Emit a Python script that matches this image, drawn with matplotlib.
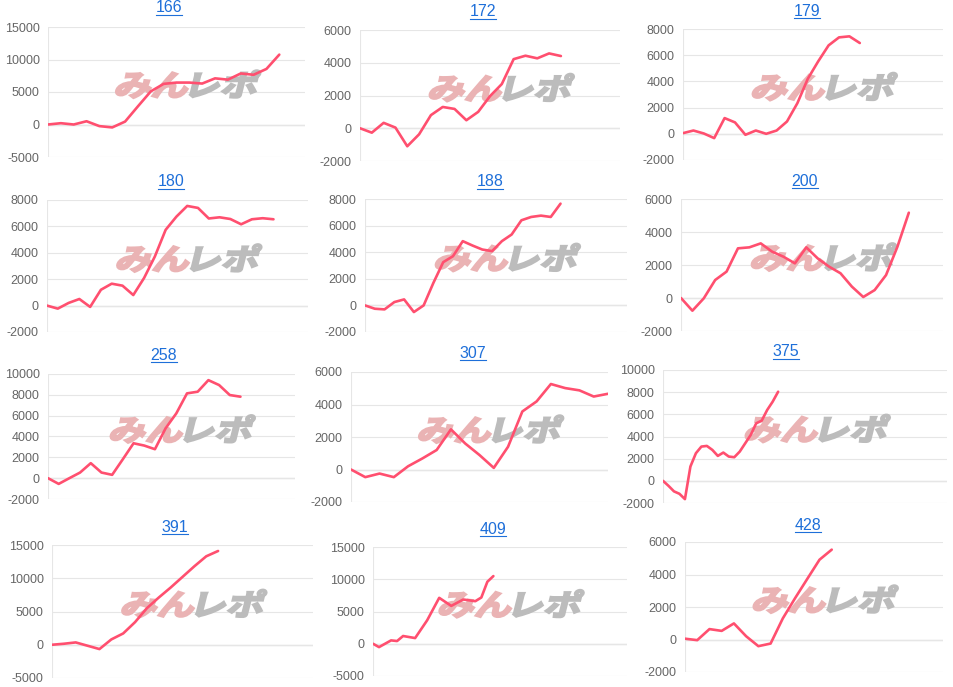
import matplotlib
matplotlib.use("Agg")
import matplotlib.pyplot as plt
import matplotlib.transforms as mtransforms
from matplotlib.textpath import TextPath
from matplotlib.patches import PathPatch
from matplotlib.font_manager import FontProperties
from matplotlib.lines import Line2D

plt.rcParams['font.family'] = ['Liberation Sans', 'DejaVu Sans']

# ---------------- data ----------------
titles = ['166', '172', '179', '180', '188', '200',
          '258', '307', '375', '391', '409', '428']

v166 = [0, 200, 0, 500, -250, -450, 450, 2800, 5100, 6250, 6450, 6450, 6300,
        7100, 6900, 7850, 7650, 8550, 10750]
v172 = [0, -270, 330, 40, -1100, -370, 800, 1300, 1180, 490, 1000, 1960, 2700,
        4220, 4430, 4270, 4570, 4410]
v179 = [50, 250, 25, -330, 1200, 870, -75, 250, 0, 250, 940, 2340, 4200, 5530,
        6750, 7360, 7440, 6930]
v180 = [0, -230, 200, 500, -100, 1200, 1660, 1510, 800, 2090, 3720, 5740, 6740,
        7550, 7400, 6600, 6690, 6560, 6160, 6540, 6620, 6540]
v188 = [0, -250, -300, 250, 450, -500, 0, 1700, 3250, 3700, 4830, 4500, 4200,
        4080, 4830, 5330, 6400, 6650, 6750, 6650, 7650]
v200 = [0, -770, -20, 1090, 1600, 3010, 3070, 3310, 2810, 2500, 2100, 3070, 2400,
        1900, 1500, 690, 60, 480, 1390, 3110, 5170]
v258 = [0, -550, 0, 540, 1440, 540, 320, 1820, 3350, 3130, 2780, 4790, 6220,
        8140, 8300, 9410, 8940, 7980, 7820]
v307 = [0, -470, -250, -470, 200, 680, 1200, 2470, 1600, 890, 100, 1400, 3570,
        4190, 5260, 5010, 4870, 4490, 4660]
v375 = [0, -450, -950, -1170, -1650, 1290, 2490, 3090, 3150, 2790, 2250, 2550,
        2190, 2130, 2640, 3390, 4140, 5190, 5430, 6390, 7140, 8040]
v391 = [0, 150, 350, -150, -650, 800, 1700, 3400, 5500, 7100, 8600, 10200,
        11800, 13300, 14100]
x409 = [0, 1, 3, 4, 5, 7, 9, 11, 13, 15, 17, 18, 19, 20]
v409 = [0, -520, 520, 420, 1200, 880, 3640, 7120, 5870, 6860, 6600, 7170,
        9610, 10490]
v428 = [50, -40, 640, 530, 990, 200, -410, -250, 1300, 2540, 3730, 4910, 5530]

series = [v166, v172, v179, v180, v188, v200, v258, v307, v375, v391, v409, v428]
xvals = [list(range(len(v))) for v in series]
xvals[10] = x409

yticks = [
    [-5000, 0, 5000, 10000, 15000],
    [-2000, 0, 2000, 4000, 6000],
    [-2000, 0, 2000, 4000, 6000, 8000],
    [-2000, 0, 2000, 4000, 6000, 8000],
    [-2000, 0, 2000, 4000, 6000, 8000],
    [-2000, 0, 2000, 4000, 6000],
    [-2000, 0, 2000, 4000, 6000, 8000, 10000],
    [-2000, 0, 2000, 4000, 6000],
    [-2000, 0, 2000, 4000, 6000, 8000, 10000],
    [-5000, 0, 5000, 10000, 15000],
    [-5000, 0, 5000, 10000, 15000],
    [-2000, 0, 2000, 4000, 6000],
]

# ---------------- layout (pixels) ----------------
W, H = 954, 687
# left, right, top, bottom
boxes = [
    (48, 305, 27, 157), (360, 620, 30, 161), (683, 943, 29, 160),
    (47, 308, 200, 332), (365, 627, 199, 332), (681, 943, 199, 331),
    (48, 295, 374, 499), (351, 608, 372, 502), (663, 947, 370, 503),
    (52, 313, 545, 678), (373, 627, 547, 676), (685, 943, 542, 672),
]
title_pos = [
    (169, 8), (483, 12), (807, 11),
    (171, 182), (490, 182), (805, 181),
    (164, 355), (473, 353), (786, 352),
    (175, 527), (493, 529), (808, 525),
]
x_spans = [20, 22, 25, 24.2, 26.8, 23, 23.1, 18, 51.8, 22, 42.2, 21.1]

LINE = '#ff4f6f'
GRID = '#e6e6e6'
TICK = '#666666'
TITLE = '#1e6fd9'

fig = plt.figure(figsize=(W / 100, H / 100), dpi=100)
fig.patch.set_facecolor('white')

fp = FontProperties(family=['Noto Sans CJK JP'], weight='bold')
S = 31
p1 = TextPath((0, 0), 'みん', size=S, prop=fp)
p2 = TextPath((0, 0), 'レポ', size=S, prop=fp)
e1 = p1.get_extents()
e2 = p2.get_extents()
gap = 3
tot_w = e1.x1 + gap + (e2.x1 - e2.x0)
cy = (min(e1.y0, e2.y0) + max(e1.y1, e2.y1)) / 2

axes = []
for i in range(12):
    l, r, t, b = boxes[i]
    ax = fig.add_axes([l / W, 1 - b / H, (r - l) / W, (b - t) / H])
    axes.append(ax)
    ys = yticks[i]
    ax.set_ylim(ys[0], ys[-1])
    ax.set_xlim(0, x_spans[i])
    ax.set_yticks(ys)
    ax.set_yticklabels([str(v) for v in ys])
    ax.set_xticks([])
    for s in ax.spines.values():
        s.set_visible(False)
    ax.tick_params(axis='y', length=0, pad=6, labelsize=9, labelcolor=TICK)
    ax.grid(axis='y', color=GRID, lw=0.8, zorder=0)
    ax.axhline(0, color='#a0a0a0', lw=0.8, zorder=1)
    ax.axvline(0, color=GRID, lw=0.8, zorder=1)

    # watermark
    base = mtransforms.ScaledTranslation(0.54, 0.56, ax.transAxes)
    tr1 = (mtransforms.Affine2D().translate(-tot_w / 2, -cy)
           .scale(1.2, 0.95).skew_deg(14, 0)) + base
    tr2 = (mtransforms.Affine2D().translate(e1.x1 + gap - e2.x0 - tot_w / 2, -cy)
           .scale(1.2, 0.95).skew_deg(14, 0)) + base
    ax.add_patch(PathPatch(p1, transform=tr1, facecolor='#eab3b4',
                           edgecolor='#eab3b4', lw=1.6, zorder=2))
    ax.add_patch(PathPatch(p2, transform=tr2, facecolor='#bcbcbc',
                           edgecolor='#bcbcbc', lw=1.6, zorder=2))

    ax.plot(xvals[i], series[i], color=LINE, lw=1.9, zorder=3,
            solid_joinstyle='round', solid_capstyle='round')

    tx, ty = title_pos[i]
    fig.text(tx / W, 1 - ty / H, titles[i], ha='center', va='center',
             fontsize=11.5, color=TITLE)

fig.canvas.draw()
renderer = fig.canvas.get_renderer()
for txt in list(fig.texts):
    bb = txt.get_window_extent(renderer)
    yline = bb.y0 + 0.5
    fig.add_artist(Line2D([bb.x0 / W, bb.x1 / W], [yline / H, yline / H],
                          transform=fig.transFigure, color=TITLE, lw=0.8))

fig.savefig('out.png', dpi=100, facecolor='white')
